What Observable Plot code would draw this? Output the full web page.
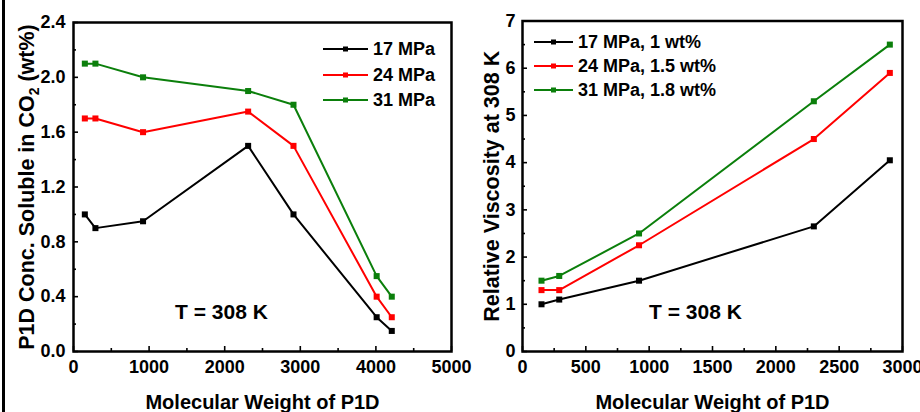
<!DOCTYPE html>
<html>
<head>
<meta charset="utf-8">
<script src="https://cdn.jsdelivr.net/npm/d3@7"></script>
<script src="https://cdn.jsdelivr.net/npm/@observablehq/plot@0.6"></script>
<style>
  html, body { margin: 0; padding: 0; background: #fff; }
  #wrap { position: relative; width: 920px; height: 412px; overflow: hidden; background: #fff;
          font-family: "Liberation Sans", Arial, sans-serif; font-weight: bold; }
  .panel { position: absolute; top: 0; }
  .legend { position: absolute; font-size: 18px; font-weight: bold; color: #000; }
  .legend .row { position: absolute; left: 0; height: 22px; display: flex; align-items: center; white-space: nowrap; }
  .legend svg { display: block; }
  #edge { position: absolute; left: 2px; top: 0; width: 3px; height: 412px; background: #000; }
</style>
</head>
<body>
<div id="wrap">
  <div id="edge"></div>
</div>
<script>
// ---------- data ----------
const seriesNames = ["17 MPa", "24 MPa", "31 MPa"];
const seriesColors = ["#000000", "#ff0000", "#0b7f0b"];

// Left panel: solubility vs molecular weight
const mwSol = [150, 290, 920, 2310, 2910, 4010, 4210];
const sol17 = [1.0, 0.9, 0.95, 1.5, 1.0, 0.25, 0.15];
const sol24 = [1.7, 1.7, 1.6, 1.75, 1.5, 0.4, 0.25];
const sol31 = [2.1, 2.1, 2.0, 1.9, 1.8, 0.55, 0.4];

// Right panel: relative viscosity vs molecular weight
const viscNames = ["17 MPa, 1 wt%", "24 MPa, 1.5 wt%", "31 MPa, 1.8 wt%"];
const mwVis = [150, 290, 920, 2300, 2900];
const vis17 = [1.0, 1.1, 1.5, 2.65, 4.05];
const vis24 = [1.3, 1.3, 2.25, 4.5, 5.9];
const vis31 = [1.5, 1.6, 2.5, 5.3, 6.5];

// tick labels
const xTicksL = [0, 1000, 2000, 3000, 4000, 5000];
const xMinorL = [500, 1500, 2500, 3500, 4500];
const yTicksL = [0, 0.4, 0.8, 1.2, 1.6, 2.0, 2.4];
const yMinorL = [0.2, 0.6, 1.0, 1.4, 1.8, 2.2];
const xTicksR = [0, 500, 1000, 1500, 2000, 2500, 3000];
const xMinorR = [250, 750, 1250, 1750, 2250, 2750];
const yTicksR = [0, 1, 2, 3, 4, 5, 6, 7];
const yMinorR = [0.5, 1.5, 2.5, 3.5, 4.5, 5.5, 6.5];

const xTitle = "Molecular Weight of P1D";
const yTitleL = "P1D Conc. Soluble in CO2 (wt%)";
const yTitleR = "Relative Viscosity at 308 K";
const tempNote = "T = 308 K";

// ---------- build tables ----------
function table(xs, name, ys) { return ys.map((v, i) => ({x: xs[i], y: v, s: name})); }
const solData = [
  ...table(mwSol, seriesNames[0], sol17),
  ...table(mwSol, seriesNames[1], sol24),
  ...table(mwSol, seriesNames[2], sol31)
];
const visData = [
  ...table(mwVis, viscNames[0], vis17),
  ...table(mwVis, viscNames[1], vis24),
  ...table(mwVis, viscNames[2], vis31)
];

const FONT = "Liberation Sans, Arial, sans-serif";

function panel(cfg) {
  const fw = cfg.width - cfg.ml - cfg.mr;
  const fh = cfg.height - cfg.mt - cfg.mb;
  const majorLen = 5, minorLen = 3;
  return Plot.plot({
    width: cfg.width, height: cfg.height,
    marginTop: cfg.mt, marginBottom: cfg.mb, marginLeft: cfg.ml, marginRight: cfg.mr,
    style: {background: "transparent", overflow: "visible", fontFamily: FONT, color: "#000"},
    x: {domain: cfg.xDomain},
    y: {domain: cfg.yDomain},
    color: {domain: cfg.names, range: seriesColors},
    marks: [
      Plot.axisX({ticks: cfg.xTicks, tickSize: 0, tickPadding: 9, tickFormat: "d",
        fontSize: 18, fontWeight: "bold", label: null}),
      Plot.axisY({ticks: cfg.yTicks, tickSize: 0, tickPadding: cfg.yPad, tickFormat: cfg.yFormat,
        fontSize: 18, fontWeight: "bold", label: null}),
      Plot.tickX(cfg.xTicks, {x: d => d, insetTop: fh - majorLen, stroke: "#000", strokeWidth: 1.6}),
      Plot.tickX(cfg.xMinor, {x: d => d, insetTop: fh - minorLen, stroke: "#000", strokeWidth: 1.6}),
      Plot.tickY(cfg.yTicks, {y: d => d, insetRight: fw - majorLen, stroke: "#000", strokeWidth: 1.6}),
      Plot.tickY(cfg.yMinor, {y: d => d, insetRight: fw - minorLen, stroke: "#000", strokeWidth: 1.6}),
      Plot.line(cfg.data, {x: "x", y: "y", z: "s", stroke: "s", strokeWidth: 2}),
      Plot.dot(cfg.data, {x: "x", y: "y", fill: "s", symbol: "square", r: 3.4}),
      Plot.frame({stroke: "#000", strokeWidth: 2.5}),
      Plot.text([xTitle], {frameAnchor: "bottom", dy: 57, lineAnchor: "bottom",
        fontSize: 20, fontWeight: "bold", fill: "#000"}),
      Plot.text([cfg.yTitle], {frameAnchor: "left", dx: cfg.yTitleDx, rotate: -90, lineAnchor: "middle",
        textAnchor: "middle", fontSize: 21.5, fontWeight: "bold", fill: "#000"}),
      Plot.text([tempNote], {frameAnchor: "bottom-left", dx: cfg.noteDx, dy: -33, textAnchor: "middle",
        lineAnchor: "bottom", fontSize: 21, fontWeight: "bold", fill: "#000"})
    ]
  });
}

const left = panel({
  width: 460, height: 412, mt: 22, mb: 61, ml: 73, mr: 9,
  xDomain: [0, 5000], yDomain: [0, 2.4],
  xTicks: xTicksL, xMinor: xMinorL, yTicks: yTicksL, yMinor: yMinorL,
  yFormat: d => d.toFixed(1), yPad: 8,
  names: seriesNames, data: solData,
  yTitle: yTitleL, yTitleDx: -46, noteDx: 148
});
const right = panel({
  width: 460, height: 412, mt: 20.5, mb: 61, ml: 62, mr: 18,
  xDomain: [0, 3000], yDomain: [0, 7],
  xTicks: xTicksR, xMinor: xMinorR, yTicks: yTicksR, yMinor: yMinorR,
  yFormat: d => String(d), yPad: 7,
  names: viscNames, data: visData,
  yTitle: yTitleR, yTitleDx: -30, noteDx: 173
});

// subscript 2 in CO2
left.querySelectorAll("text").forEach(t => {
  if (t.textContent === yTitleL) {
    const ns = "http://www.w3.org/2000/svg";
    const idx = yTitleL.indexOf("CO2") + 2;
    t.textContent = "";
    const a = document.createElementNS(ns, "tspan"); a.textContent = yTitleL.slice(0, idx);
    const b = document.createElementNS(ns, "tspan"); b.textContent = "2";
    b.setAttribute("dy", "5"); b.setAttribute("font-size", "14");
    const c = document.createElementNS(ns, "tspan"); c.textContent = yTitleL.slice(idx + 1);
    c.setAttribute("dy", "-5");
    t.append(a, b, c);
  }
});

const wrap = document.getElementById("wrap");
left.classList.add("panel"); left.style.left = "0px";
right.classList.add("panel"); right.style.left = "460px";
wrap.appendChild(left);
wrap.appendChild(right);

// ---------- legends ----------
function legend(names, x0, rowsY, lineW) {
  const div = document.createElement("div");
  div.className = "legend";
  div.style.left = x0 + "px";
  div.style.top = "0px";
  names.forEach((n, i) => {
    const row = document.createElement("div");
    row.className = "row";
    row.style.top = (rowsY[i] - 11) + "px";
    const c = seriesColors[i];
    row.innerHTML =
      `<svg width="${lineW}" height="10"><line x1="0" x2="${lineW}" y1="5" y2="5" stroke="${c}" stroke-width="2"/>` +
      `<rect x="${lineW / 2 - 2.5}" y="2.5" width="5" height="5" fill="${c}"/></svg>` +
      `<span style="margin-left:5px">${n}</span>`;
    div.appendChild(row);
  });
  wrap.appendChild(div);
}
legend(seriesNames, 323, [49, 75, 100], 45);
legend(viscNames, 534, [42, 66, 90], 39);
</script>
</body>
</html>
